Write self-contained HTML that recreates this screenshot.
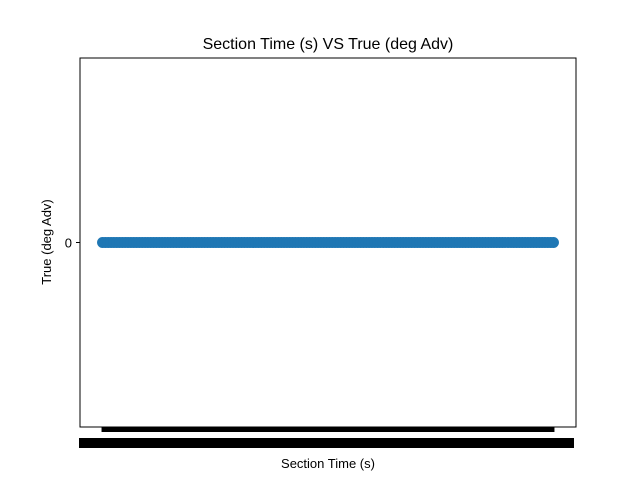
<!DOCTYPE html>
<html><head><meta charset="utf-8"><style>
body{margin:0;background:#fff}
text{font-family:"Liberation Sans","DejaVu Sans",sans-serif}
</style></head><body>
<svg id="chart" width="640" height="480" viewBox="0 0 640 480">
<rect width="640" height="480" fill="#fff"/>
<text x="328" y="49" font-size="16" text-anchor="middle">Section Time (s) VS True (deg Adv)</text>
<text x="328" y="468" font-size="13" text-anchor="middle">Section Time (s)</text>
<text transform="translate(51,242) rotate(-90)" font-size="13" text-anchor="middle">True (deg Adv)</text>
<g id="marks"></g>
<rect x="80" y="58" width="496" height="369" fill="none" stroke="#000" stroke-width="1"/>
</svg>
<script>
const categories = ["0.00","0.25","0.50","0.75","1.00","1.25","1.50","1.75","2.00","2.25","2.50","2.75","3.00","3.25","3.50","3.75","4.00","4.25","4.50","4.75","5.00","5.25","5.50","5.75","6.00","6.25","6.50","6.75","7.00","7.25","7.50","7.75","8.00","8.25","8.50","8.75","9.00","9.25","9.50","9.75","10.00","10.25","10.50","10.75","11.00","11.25","11.50","11.75","12.00","12.25","12.50","12.75","13.00","13.25","13.50","13.75","14.00","14.25","14.50","14.75","15.00","15.25","15.50","15.75","16.00","16.25","16.50","16.75","17.00","17.25","17.50","17.75","18.00","18.25","18.50","18.75","19.00","19.25","19.50","19.75","20.00","20.25","20.50","20.75","21.00","21.25","21.50","21.75","22.00","22.25","22.50","22.75","23.00","23.25","23.50","23.75","24.00","24.25","24.50","24.75","25.00","25.25","25.50","25.75","26.00","26.25","26.50","26.75","27.00","27.25","27.50","27.75","28.00","28.25","28.50","28.75","29.00","29.25","29.50","29.75","30.00","30.25","30.50","30.75","31.00","31.25","31.50","31.75","32.00","32.25","32.50","32.75","33.00","33.25","33.50","33.75","34.00","34.25","34.50","34.75","35.00","35.25","35.50","35.75","36.00","36.25","36.50","36.75","37.00","37.25","37.50","37.75","38.00","38.25","38.50","38.75","39.00","39.25","39.50","39.75"];
const values = [0,0,0,0,0,0,0,0,0,0,0,0,0,0,0,0,0,0,0,0,0,0,0,0,0,0,0,0,0,0,0,0,0,0,0,0,0,0,0,0,0,0,0,0,0,0,0,0,0,0,0,0,0,0,0,0,0,0,0,0,0,0,0,0,0,0,0,0,0,0,0,0,0,0,0,0,0,0,0,0,0,0,0,0,0,0,0,0,0,0,0,0,0,0,0,0,0,0,0,0,0,0,0,0,0,0,0,0,0,0,0,0,0,0,0,0,0,0,0,0,0,0,0,0,0,0,0,0,0,0,0,0,0,0,0,0,0,0,0,0,0,0,0,0,0,0,0,0,0,0,0,0,0,0,0,0,0,0,0,0];
const yTicks = [0];
const NS="http://www.w3.org/2000/svg";
const L=80,R=576,T=58,B=427;
const n=categories.length;
const span=(n-1)*1.1||1, x0=-(n-1)*0.05;
function xs(i){return L+(i-x0)/span*(R-L);}
function ys(v){return T+(0.055-v)/0.11*(B-T);}
const g=document.getElementById('marks');
function el(t,a){const e=document.createElementNS(NS,t);for(const k in a)e.setAttribute(k,a[k]);g.appendChild(e);return e;}
categories.forEach((c,i)=>{
  const t=el('line',{x1:xs(i),x2:xs(i),y1:B,y2:B+5,stroke:'#000','stroke-width':1});
  
  
  const lb=el('text',{x:xs(i),y:448,'font-size':12,'text-anchor':'middle','font-weight':'bold'});
  lb.textContent=c;
  
  
});
const band=el('rect',{x:xs(0)-1,y:B,width:xs(n-1)-xs(0)+2,height:5,fill:'#000'});


const lband=el('rect',{x:79,y:438,width:495,height:10,fill:'#000'});


yTicks.forEach(v=>{
  const t=el('line',{x1:L-4,x2:L,y1:ys(v),y2:ys(v),stroke:'#000'});
  
  
  const lb=el('text',{x:L-8,y:ys(v)+5,'font-size':13,'text-anchor':'end'});
  lb.textContent=String(v);
  
  
});
values.forEach((v,i)=>{
  const p=el('circle',{cx:xs(i),cy:ys(v),r:5.5,fill:'#1f77b4'});
  
  
});
</script>
</body></html>
